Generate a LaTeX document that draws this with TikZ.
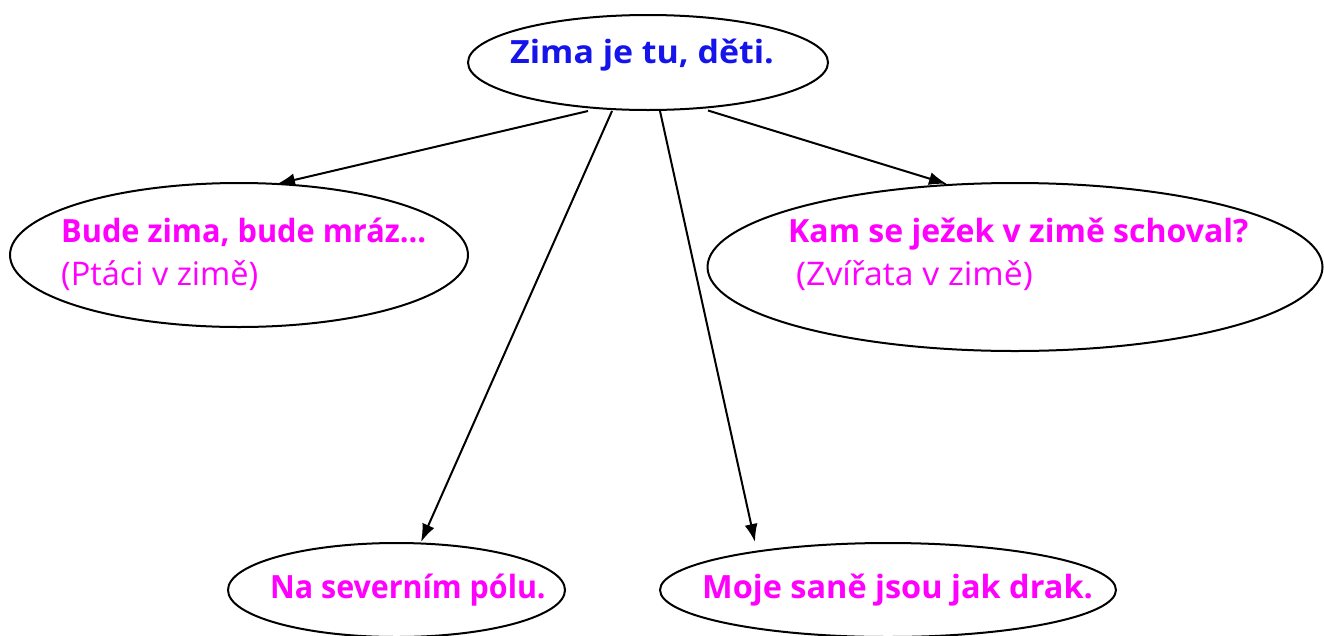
\documentclass[tikz,border=0pt]{standalone}
\usepackage{fontspec}
\setmainfont{Open Sans}
\usetikzlibrary{shapes.geometric,arrows.meta}
\definecolor{topblue}{RGB}{20,20,235}
\definecolor{mag}{RGB}{255,0,255}
\newcommand{\hsc}[2]{\scalebox{#1}[1]{#2}}
\tikzset{
  bubble/.style={draw=black, line width=2pt, shape=ellipse, inner sep=0pt},
  lbl/.style={anchor=base west, inner sep=0pt, font=\fontsize{32.5}{38}\selectfont},
  hd/.style={lbl, font=\fontsize{32}{38}\selectfont\bfseries},
  arr/.style={line width=2pt, -{Latex[length=18pt,width=13pt]}}
}
\begin{document}
\begin{tikzpicture}[x=1pt,y=-1pt]
\useasboundingbox (0,0) rectangle (1324,635);
\node[bubble, minimum width=360pt, minimum height=95pt] (top) at (648,62.5) {};
\node[bubble, minimum width=458pt, minimum height=144pt] (left) at (239,255) {};
\node[bubble, minimum width=615pt, minimum height=168pt] (right) at (1015,267) {};
\node[bubble, minimum width=337pt, minimum height=94pt] (bl) at (396.5,590) {};
\node[bubble, minimum width=456pt, minimum height=94pt] (br) at (888,590) {};
\node[hd, text=topblue] (ttop) at (510,63) {\hsc{1.06}{Zima je tu, děti.}};
\node[hd, text=mag] (tl1) at (61,242) {\hsc{0.96}{Bude zima, bude mráz…}};
\node[lbl, text=mag] (tl2) at (61,285) {(Ptáci v zimě)};
\node[hd, text=mag] (tr1) at (788,242) {Kam se ježek v zimě schoval?};
\node[lbl, text=mag] (tr2) at (796,285) {\hsc{1.04}{(Zvířata v zimě)}};
\node[hd, text=mag] (tbl) at (270,598) {\hsc{0.95}{Na severním pólu.}};
\node[hd, text=mag] (tbr) at (702,598) {\hsc{1.015}{Moje saně jsou jak drak.}};
\draw[arr] ([shift={(-60,48.5)}]top.center) -- ([shift={(38,-71)}]left.center);
\draw[arr] ([shift={(-36,48.5)}]top.center) -- ([shift={(24.5,-48)}]bl.center);
\draw[arr] ([shift={(12,48.5)}]top.center) -- ([shift={(-133,-48)}]br.center);
\draw[arr] ([shift={(60,48)}]top.center) -- ([shift={(-68,-83)}]right.center);
\end{tikzpicture}
\end{document}
